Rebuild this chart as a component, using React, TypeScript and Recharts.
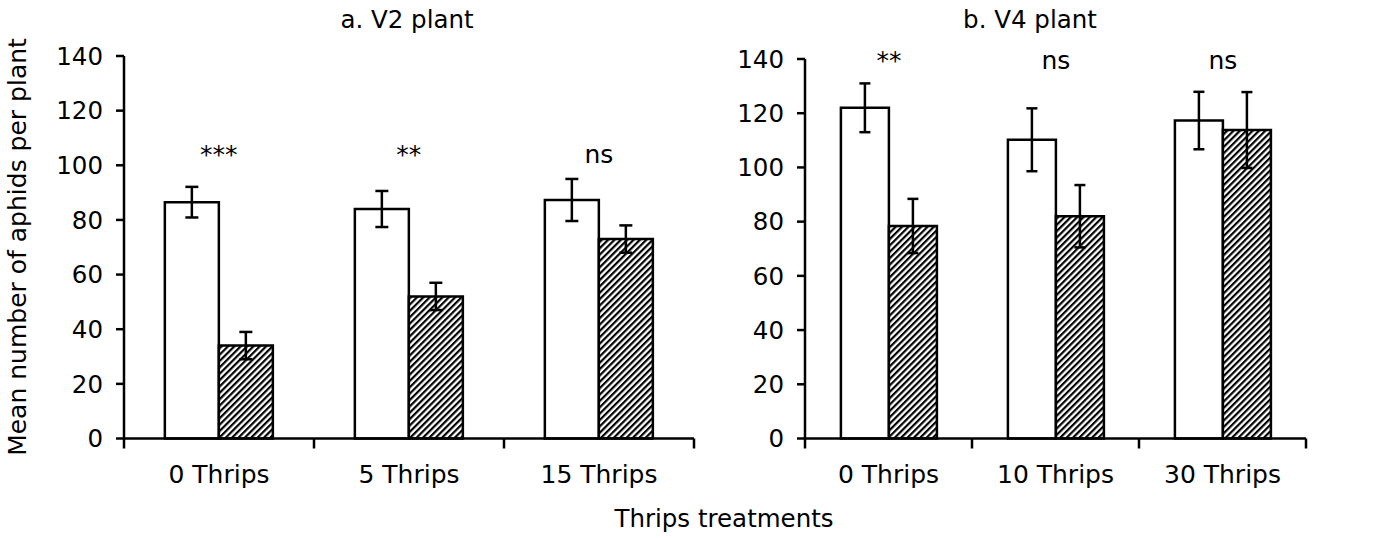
import { Bar, BarChart, ErrorBar, LabelList, XAxis, YAxis } from "recharts";

const FONT = '"DejaVu Sans", sans-serif';

// a. V2 plant
const v2Categories = ["0 Thrips", "5 Thrips", "15 Thrips"];
const v2Control = [86.5, 84, 87.3];
const v2ControlErr = [5.6, 6.6, 7.7];
const v2Treated = [34, 52, 73];
const v2TreatedErr = [5, 5, 5];
const v2Sig = ["***", "**", "ns"];

// b. V4 plant
const v4Categories = ["0 Thrips", "10 Thrips", "30 Thrips"];
const v4Control = [122, 110.2, 117.3];
const v4ControlErr = [9, 11.6, 10.6];
const v4Treated = [78.4, 82, 113.8];
const v4TreatedErr = [10, 11.5, 14];
const v4Sig = ["**", "ns", "ns"];

const yTicks = [0, 20, 40, 60, 80, 100, 120, 140];

type Row = { name: string; control: number; controlErr: number; treated: number; treatedErr: number; sig: string };

function buildRows(cats: string[], c: number[], ce: number[], t: number[], te: number[], sig: string[]): Row[] {
  return cats.map((name, i) => ({ name, control: c[i], controlErr: ce[i], treated: t[i], treatedErr: te[i], sig: sig[i] }));
}

const v2Rows = buildRows(v2Categories, v2Control, v2ControlErr, v2Treated, v2TreatedErr, v2Sig);
const v4Rows = buildRows(v4Categories, v4Control, v4ControlErr, v4Treated, v4TreatedErr, v4Sig);

const Y_AXIS_W = 60;
const X_AXIS_H = 50;
const HEIGHT = 538;
const LINE = 2.5;

function Panel({
  id, rows, width, margin, sigBaseline, capHalf
}: {
  id: string; rows: Row[]; width: number;
  margin: { top: number; right: number; left: number; bottom: number };
  sigBaseline: number; capHalf: number;
}) {
  const band = (width - margin.left - Y_AXIS_W - margin.right) / rows.length;

  const renderTick = (props: any) => {
    const { x, y, payload, index } = props;
    const half = band / 2;
    return (
      <g>
        <line x1={x - half} x2={x - half} y1={y} y2={y + 10} stroke="#000" strokeWidth={LINE} />
        {index === rows.length - 1 ? (
          <line x1={x + half} x2={x + half} y1={y} y2={y + 10} stroke="#000" strokeWidth={LINE} />
        ) : null}
        <text x={x} y={y + 44} textAnchor="middle" fontSize={25} fill="#000">{payload.value}</text>
      </g>
    );
  };

  const renderSig = (p: any) => (
    <text x={Number(p.x) + Number(p.width)} y={sigBaseline} textAnchor="middle" fontSize={25} fill="#000">
      {p.value}
    </text>
  );

  return (
    <BarChart width={width} height={HEIGHT} data={rows} margin={margin} barCategoryGap="21.5%" barGap={0}>
      <defs>
        <pattern id={`hatch-${id}`} patternUnits="userSpaceOnUse" width={4.5} height={4.5} patternTransform="rotate(45)">
          <rect width={4.5} height={4.5} fill="#fff" />
          <line x1={1.1} y1={0} x2={1.1} y2={4.5} stroke="#000" strokeWidth={2.2} />
        </pattern>
      </defs>
      <XAxis
        dataKey="name"
        height={X_AXIS_H}
        axisLine={{ stroke: "#000", strokeWidth: LINE }}
        tickLine={false}
        tickSize={0}
        tickMargin={0}
        interval={0}
        tick={renderTick}
      />
      <YAxis
        width={Y_AXIS_W}
        domain={[0, 140]}
        ticks={yTicks}
        interval={0}
        axisLine={{ stroke: "#000", strokeWidth: LINE }}
        tickLine={{ stroke: "#000", strokeWidth: LINE }}
        tickSize={8}
        tickMargin={13}
        tick={{ fontSize: 24.5, fill: "#000" }}
      />
      <Bar dataKey="control" fill="#fff" stroke="#000" strokeWidth={LINE} isAnimationActive={false}>
        <ErrorBar dataKey="controlErr" width={capHalf} stroke="#000" strokeWidth={LINE} />
        <LabelList dataKey="sig" content={renderSig} />
      </Bar>
      <Bar dataKey="treated" fill={`url(#hatch-${id})`} stroke="#000" strokeWidth={LINE} isAnimationActive={false}>
        <ErrorBar dataKey="treatedErr" width={capHalf} stroke="#000" strokeWidth={LINE} />
      </Bar>
    </BarChart>
  );
}

export default function App() {
  return (
    <div style={{ position: "absolute", left: 0, top: 0, width: 1386, height: 538, background: "#fff", fontFamily: FONT }}>
      <svg width={1386} height={538} style={{ position: "absolute", left: 0, top: 0 }} fontFamily={FONT}>
        <text x={407} y={28} textAnchor="middle" fontSize={24.5} fill="#000">a. V2 plant</text>
        <text x={1030} y={28} textAnchor="middle" fontSize={24.5} fill="#000">b. V4 plant</text>
        <text x={724} y={527} textAnchor="middle" fontSize={24.5} fill="#000">Thrips treatments</text>
        <text x={26} y={247} textAnchor="middle" fontSize={25} fill="#000" transform="rotate(-90, 26, 247)">
          Mean number of aphids per plant
        </text>
      </svg>
      <div style={{ position: "absolute", left: 0, top: 0 }}>
        <Panel id="v2" rows={v2Rows} width={710} margin={{ top: 56, right: 16, left: 64, bottom: HEIGHT - 438.5 - X_AXIS_H }} sigBaseline={163} capHalf={6.5} />
      </div>
      <div style={{ position: "absolute", left: 720, top: 0 }}>
        <Panel id="v4" rows={v4Rows} width={666} margin={{ top: 59, right: 80, left: 25, bottom: HEIGHT - 438.5 - X_AXIS_H }} sigBaseline={69} capHalf={5.5} />
      </div>
    </div>
  );
}
